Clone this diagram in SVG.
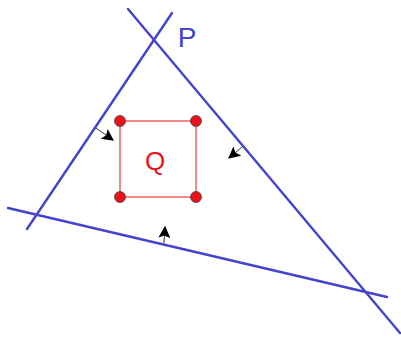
<svg xmlns="http://www.w3.org/2000/svg" width="401" height="337" viewBox="0 0 401 337">
<defs>
<marker id="ah" viewBox="0 0 10 10" refX="9" refY="5" markerWidth="13" markerHeight="12" markerUnits="userSpaceOnUse" orient="auto"><path d="M0,0 L10,5 L0,10 L2,5 Z" fill="#000"/></marker>
<style>
.ln{stroke:#4444cc;stroke-width:2.4;fill:none;stroke-linecap:round}
.ar{stroke:#000;stroke-width:0.8;fill:none;marker-end:url(#ah)}
.dot{fill:#e8141c;stroke:#444;stroke-width:0.8}
</style>
</defs>
<rect width="401" height="337" fill="#fff"/>
<g id="P">
<line class="ln" x1="27" y1="229" x2="172" y2="13"/>
<line class="ln" x1="128" y1="9" x2="400" y2="333"/>
<line class="ln" x1="8" y1="208" x2="387" y2="297"/>
<text x="187" y="47" font-family="Liberation Sans, Arial, sans-serif" font-size="28" fill="#4444cc" text-anchor="middle">P</text>
</g>
<g id="Q">
<rect x="120" y="121" width="76" height="76" fill="none" stroke="#e8141c" stroke-width="1"/>
<circle class="dot" cx="120" cy="121" r="5.5"/>
<circle class="dot" cx="196" cy="121" r="5.5"/>
<circle class="dot" cx="120" cy="197" r="5.5"/>
<circle class="dot" cx="196" cy="197" r="5.5"/>
<text x="155" y="170" font-family="Liberation Sans, Arial, sans-serif" font-size="26" fill="#e8141c" text-anchor="middle">Q</text>
</g>
<g id="connectors">
<line class="ar" x1="96" y1="128" x2="113" y2="140"/>
<line class="ar" x1="242" y1="147" x2="229" y2="158"/>
<line class="ar" x1="164" y1="243" x2="165" y2="227"/>
</g>
</svg>
